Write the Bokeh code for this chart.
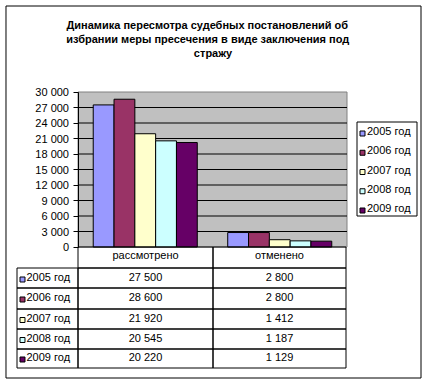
from bokeh.plotting import figure
from bokeh.models import Range1d, FactorRange, FixedTicker, LinearAxis, ColumnDataSource
from bokeh.core.properties import value
from bokeh.transform import dodge
from bokeh.embed import file_html
from bokeh.resources import INLINE

# ---------------- data ----------------
title_lines = [
    "Динамика пересмотра судебных постановлений об",
    "избрании меры пресечения в виде заключения под",
    "стражу",
]
categories = ["рассмотрено", "отменено"]
series_names = ["2005 год", "2006 год", "2007 год", "2008 год", "2009 год"]
series_colors = ["#9999FF", "#993366", "#FFFFCC", "#CCFFFF", "#660066"]
v2005 = [27500, 2800]
v2006 = [28600, 2800]
v2007 = [21920, 1412]
v2008 = [20545, 1187]
v2009 = [20220, 1129]
series_values = [v2005, v2006, v2007, v2008, v2009]
y_ticks = [0, 3000, 6000, 9000, 12000, 15000, 18000, 21000, 24000, 27000, 30000]
y_tick_labels = ["0", "3 000", "6 000", "9 000", "12 000", "15 000", "18 000",
                 "21 000", "24 000", "27 000", "30 000"]
y_max = 30000

# ---------------- layout (pixels) ----------------
W, H = 427, 384
FRAME_W = 424                  # frame covers the canvas (3px spare on the right)
PA_L, PA_R = 77.5, 346.5       # plot area left / right
PA_T, PA_B = 91.5, 246.5       # plot area top / bottom
FONT = "Liberation Sans"
FS = "11px"
TEXT_DY = -5.5                 # compensation for text baseline placement

n_cat = len(categories)
cat_px = (PA_R - PA_L) / n_cat
pad = PA_L / cat_px            # category units of padding on each side
k = y_max / (PA_B - PA_T)      # value units per pixel

def X(px):
    """page pixel -> categorical synthetic coordinate"""
    return px / cat_px - pad

p = figure(width=W, height=H,
           x_range=FactorRange(*categories, range_padding=pad, range_padding_units="percent"),
           y_range=Range1d(-(H - PA_B) * k, PA_B * k),
           x_axis_location=None, y_axis_location=None,
           output_backend="svg", toolbar_location=None,
           min_border_left=0, min_border_right=W - FRAME_W,
           min_border_top=0, min_border_bottom=0)
p.grid.visible = False
p.outline_line_color = None
p.background_fill_color = "white"
p.border_fill_color = "white"
p.extra_y_ranges = {"px": Range1d(H, 0)}

# plot area background (gray) with gray border
p.quad(left=[0], right=[n_cat], bottom=[0], top=[y_max],
       fill_color="#C0C0C0", line_color="#808080", line_width=1)
# gridlines
p.segment(x0=[0] * (len(y_ticks) - 2), x1=[n_cat] * (len(y_ticks) - 2),
          y0=y_ticks[1:-1], y1=y_ticks[1:-1], line_color="black", line_width=1)

# bars
bw = 0.1547
src = ColumnDataSource(dict(cat=categories, **{f"s{i}": v for i, v in enumerate(series_values)}))
for i, (name, col) in enumerate(zip(series_names, series_colors)):
    p.vbar(x=dodge("cat", (i - 2) * bw, range=p.x_range), top=f"s{i}", width=bw,
           source=src, fill_color=col, line_color="black", line_width=1)

# y axis (drawn at the plot-area's left edge)
yax = LinearAxis(fixed_location=0, bounds=(0, y_max), ticker=FixedTicker(ticks=y_ticks))
yax.major_label_overrides = {t: l for t, l in zip(y_ticks, y_tick_labels)}
yax.major_tick_out = 5
yax.major_tick_in = 0
yax.minor_tick_line_color = None
yax.axis_line_color = "black"
yax.major_tick_line_color = "black"
yax.major_label_standoff = 4
yax.major_label_text_font = FONT
yax.major_label_text_font_size = FS
yax.major_label_text_color = "black"
p.add_layout(yax, "left")

PY = dict(y_range_name="px")

def boxes(ls, rs, ts, bs, fill=None):
    p.quad(left=[X(v) for v in ls], right=[X(v) for v in rs], top=ts, bottom=bs,
           fill_color=fill, fill_alpha=1.0 if fill is not None else 0.0,
           line_color="black", line_width=1, **PY)

def texts(xs, ys, tx, align="left", bold=False):
    p.text(x=[X(v) for v in xs], y=[v + TEXT_DY for v in ys], text=tx,
           text_font=value(FONT), text_font_size=value(FS),
           text_color="black", text_align=value(align), text_baseline=value("alphabetic"),
           text_font_style=value("bold" if bold else "normal"), **PY)

# outer border
boxes([5.5], [420.5], [5.5], [377.5])

# title
texts([206.8, 207.2, 212.5], [29.5, 43.5, 57.5], title_lines, align="center", bold=True)

# legend
boxes([356.5], [416.5], [121.5], [215.5])
leg_base = [136, 155.25, 174.5, 193.75, 213]
for col, b in zip(series_colors, leg_base):
    boxes([359.5], [364.5], [b - 5.5], [b - 0.5], fill=col)
texts([366.5] * 5, leg_base, series_names)

# data table
col_edges = [77.5, 212.5, 345.5]
row_edges = [267.5, 287.5, 308.5, 328.5, 348.5, 367.5]
head_top = 246.5
row_base = [282, 302, 322.5, 342.5, 362]
head_base = 260
boxes(col_edges[:-1], col_edges[1:], [head_top] * 2, [row_edges[0]] * 2)
texts([(col_edges[0] + col_edges[1]) / 2, (col_edges[1] + col_edges[2]) / 2],
      [head_base] * 2, categories, align="center")
boxes([16.5] * 5, [77.5] * 5, row_edges[:-1], row_edges[1:])
for c in range(2):
    boxes([col_edges[c]] * 5, [col_edges[c + 1]] * 5, row_edges[:-1], row_edges[1:])
    cx = (col_edges[c] + col_edges[c + 1]) / 2
    texts([cx] * 5, row_base,
          [f"{series_values[r][c]:,}".replace(",", " ") for r in range(5)], align="center")
for col, b in zip(series_colors, row_base):
    boxes([19.5], [24.5], [b - 5.5], [b - 0.5], fill=col)
texts([26] * 5, row_base, series_names)

open("out.html", "w").write(file_html(p, INLINE))
